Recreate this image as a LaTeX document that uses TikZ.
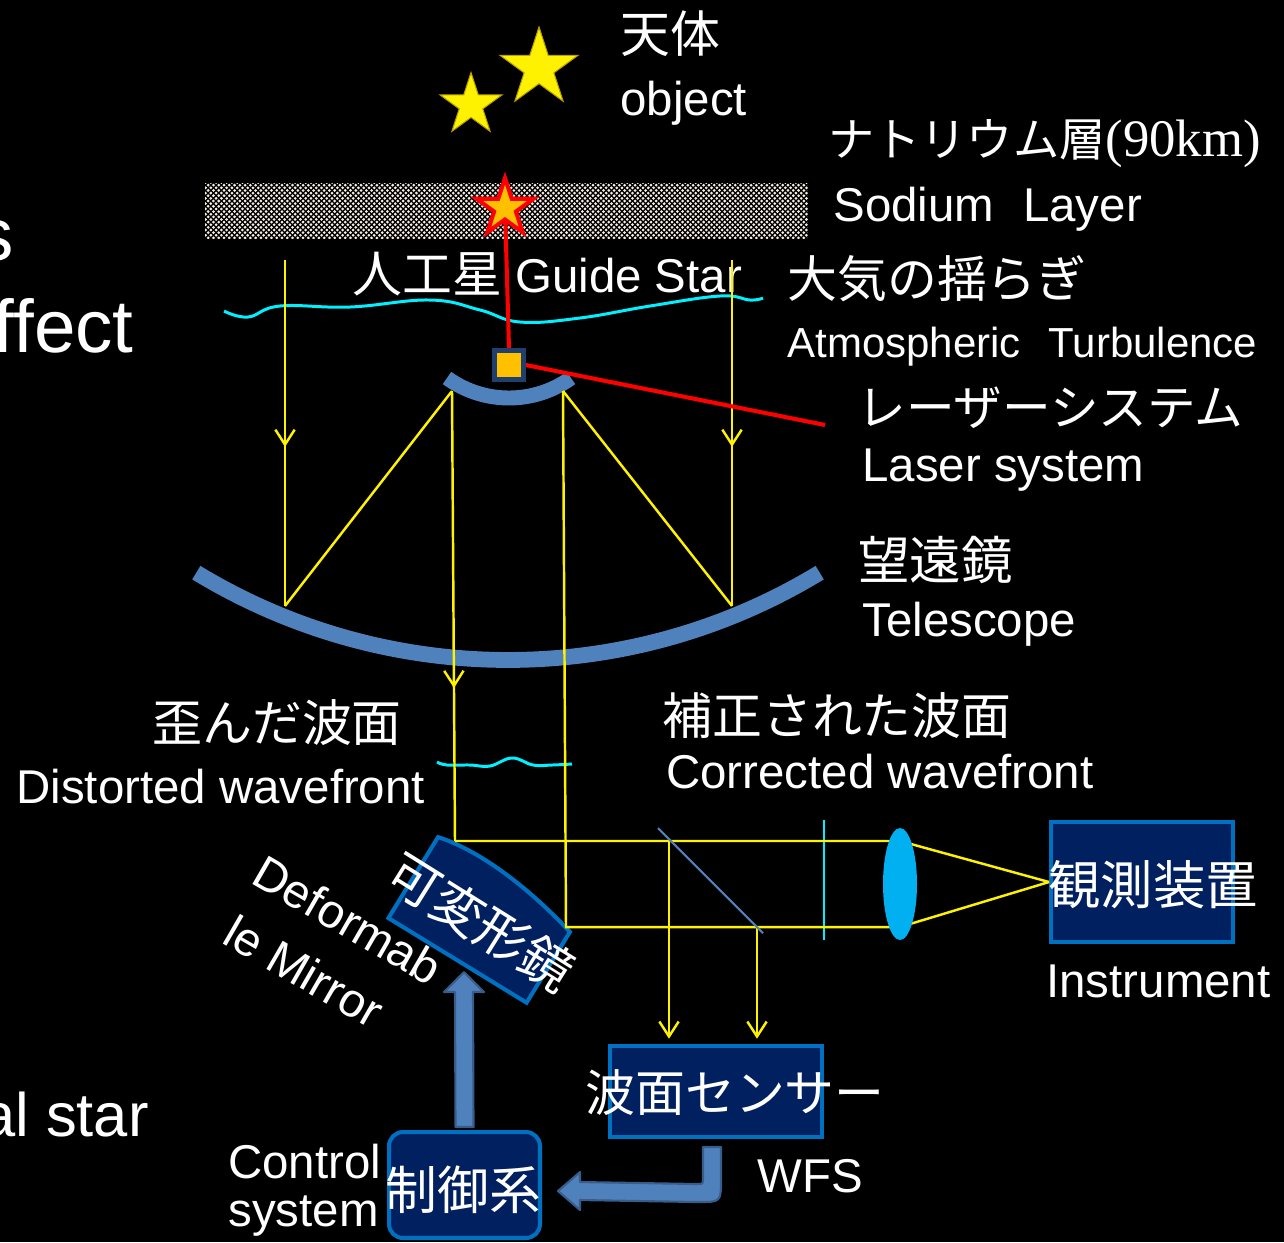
\documentclass[tikz,border=0pt]{standalone}
\usepackage{fontspec}
\setmainfont{Liberation Sans}
\newfontfamily\jpfont{Noto Sans CJK JP}
\newfontfamily\romfont{Liberation Serif}
\usetikzlibrary{calc,positioning,shapes.geometric,patterns,decorations.markings,arrows.meta}

\definecolor{steel}{HTML}{4F81BD}
\definecolor{steeldark}{HTML}{385D8A}
\definecolor{navy}{HTML}{002060}
\definecolor{boxblue}{HTML}{0070C0}
\definecolor{lensblue}{HTML}{00B0F0}
\definecolor{amber}{HTML}{FFC000}
\definecolor{wave}{HTML}{00F0FF}
\definecolor{dots}{HTML}{F6EEE4}
\definecolor{starrim}{HTML}{B8A000}

% fine dot screen for the sodium layer
\pgfdeclarepatternformonly{sodiumdots}{\pgfqpoint{-1pt}{-1pt}}{\pgfqpoint{4pt}{4pt}}{\pgfqpoint{3pt}{3pt}}{%
  \pgfpathcircle{\pgfqpoint{0pt}{0pt}}{0.86pt}%
  \pgfpathcircle{\pgfqpoint{1.5pt}{1.5pt}}{0.86pt}%
  \pgfusepath{fill}}

\tikzset{
  en/.style={text=white, inner sep=0pt, font=\fontsize{27}{32}\selectfont},
  jp/.style={text=white, inner sep=0pt, font=\jpfont\fontsize{28.4}{34}\selectfont},
  ray/.style={draw=yellow, line width=1.4pt},
  midarrow/.style={postaction={decorate}, decoration={markings,
      mark=at position #1 with {\arrow{Straight Barb[length=8.5pt,width=11pt]}}}},
  mirror/.style={draw=steel, line width=#1},
  unit/.style={draw=boxblue, fill=navy, line width=2.3pt, inner sep=0pt},
  fatarrow/.style={fill=steel, draw=steeldark, line width=1.2pt, line join=round},
  turb/.style={draw=wave, line width=1.7pt},
  laser/.style={draw=red, line width=2.3pt}
}

\begin{document}
\begin{tikzpicture}[x=0.02cm, y=-0.02cm]
  \clip (0,0) rectangle (1284,1242);
  \fill[black] (0,0) rectangle (1284,1242);

  % sodium layer
  \node[minimum width=12.06cm, minimum height=1.1cm, inner sep=0pt,
        pattern=sodiumdots, pattern color=dots] (sodium) at (506.5,210.5) {};

  % slide text running in from the left
  \node[en, anchor=base east, font=\fontsize{42.5}{50}\selectfont] (frag1) at (14,260) {s};
  \node[en, anchor=base east, font=\fontsize{42.5}{50}\selectfont] (frag2) at (134,352) {ffect};
  \node[en, anchor=base east, font=\fontsize{35}{42}\selectfont] (frag3) at (149,1136) {al star};

  % labels
  \node[jp, anchor=west] (objjp) at (620,34) {天体};
  \node[en, anchor=base west] (objen) at (620,115) {object};
  \node[en, anchor=base west] (najp) at (828,156)
    {{\jpfont\fontsize{26.3}{30}\selectfont ナトリウム層}{\romfont\fontsize{30}{34}\selectfont(90km)}};
  \node[en, anchor=base west] (naen) at (833,221) {Sodium\hspace{16.5pt}Layer};
  \node[en, anchor=base west] (gsl) at (352,292)
    {{\jpfont\fontsize{28.4}{34}\selectfont 人工星} Guide Star};
  \node[jp, anchor=west] (turbjp) at (787,279) {大気の揺らぎ};
  \node[en, anchor=base west, font=\fontsize{23.9}{28}\selectfont] (turben) at (787,357)
    {Atmospheric\hspace{16pt}Turbulence};
  \node[jp, anchor=west, font=\jpfont\fontsize{27.7}{32}\selectfont] (lasjp) at (857,408) {レーザーシステム};
  \node[en, anchor=base west] (lasen) at (862,481) {Laser system};
  \node[jp, anchor=west, font=\jpfont\fontsize{29.3}{34}\selectfont] (teljp) at (858,560) {望遠鏡};
  \node[en, anchor=base west] (telen) at (862,636) {Telescope};
  \node[jp, anchor=west] (distjp) at (152,723) {歪んだ波面};
  \node[en, anchor=base west] (disten) at (16,803) {Distorted wavefront};
  \node[jp, anchor=west] (corrjp) at (662,716) {補正された波面};
  \node[en, anchor=base west] (corren) at (666,788) {Corrected wavefront};
  \node[en, anchor=base west] (insten) at (1046,997) {Instrument};
  \node[en, anchor=base west] (wfsen) at (757,1192) {WFS};
  \node[en, anchor=base west] (ctrlen1) at (228,1178) {Control};
  \node[en, anchor=base west] (ctrlen2) at (228,1226) {system};
  \node[en, anchor=base west, rotate=-30] (dmen1) at (249,882) {Deformab};
  \node[en, anchor=base west, rotate=-30] (dmen2) at (220,942) {le Mirror};

  % turbulence and distorted wavefront
  \draw[turb] plot[smooth, tension=0.7] coordinates {(224,311) (248,317) (280,306) (350,307)
    (430,300) (480,310) (520,322) (580,318) (650,306) (720,296) (750,300) (763,298)};
  \draw[turb] plot[smooth, tension=0.7] coordinates {(437,762) (447,765) (470,765) (490,766)
    (512,758) (533,765) (552,765) (572,764)};
  % flat wavefront after correction
  \draw[turb, line width=1.1pt] (824,820) -- (824,940);

  % primary and secondary mirrors
  \coordinate (pm) at (508,60);
  \coordinate (sm) at (509,292);
  \draw[mirror=9pt] ($(pm)+(121.3:600)$) arc[start angle=121.3, end angle=58.7, radius=600];
  \draw[mirror=8.5pt] ($(sm)+(125.8:106)$) arc[start angle=125.8, end angle=54.2, radius=106];

  % deformable mirror
  \coordinate (dm) at (481,922);
  \begin{scope}[shift={(dm)}, rotate=-31.5]
    \draw[unit] (-81,45) -- (-81,-50) .. controls (-40,-60) and (20,-55) .. (81,-38)
      -- (81,45) -- cycle;
  \end{scope}
  \coordinate (dmfoot) at ($(dm)+(-17,50)$);

  % units
  \node[unit, minimum width=3.64cm, minimum height=2.4cm] (inst) at (1142,882) {};
  \node[unit, minimum width=4.24cm, minimum height=1.82cm] (wfs) at (716,1091.5) {};
  \node[unit, rounded corners=0.28cm, minimum width=3.02cm, minimum height=2.12cm] (ctrl) at (464.5,1185) {};

  % light path
  \coordinate (inL) at (285,260);  \coordinate (pmL) at (285,606);
  \coordinate (smL) at (452,391);  \coordinate (dmT) at (455,841);
  \coordinate (inR) at (732,260);  \coordinate (pmR) at (732,606);
  \coordinate (smR) at (563,391);  \coordinate (dmB) at (566,927);
  \coordinate (bsT) at (669,841);  \coordinate (bsB) at (757,927);
  \coordinate (lensc) at (900,884);

  \draw[ray, midarrow=0.54] (inL) -- (pmL);
  \draw[ray] (pmL) -- (smL);
  \draw[ray, midarrow=0.66] (smL) -- (dmT);
  \draw[ray] (dmT) -- (dmT -| lensc) -- (inst.west);
  \draw[ray, midarrow=0.54] (inR) -- (pmR);
  \draw[ray] (pmR) -- (smR);
  \draw[ray] (smR) -- (dmB) -- (dmB -| lensc) -- (inst.west);
  \draw[ray, -{Straight Barb[length=8.5pt,width=11pt]}, shorten >=3pt] (bsT) -- (bsT |- wfs.north);
  \draw[ray, -{Straight Barb[length=8.5pt,width=11pt]}, shorten >=3pt] (bsB) -- (bsB |- wfs.north);

  % beam splitter and lens
  \coordinate (bs1) at (658,828);
  \coordinate (bs2) at (763,933);
  \draw[steel, line width=1.2pt] (bs1) -- (bs2);
  \node[ellipse, fill=lensblue, minimum width=0.68cm, minimum height=2.24cm, inner sep=0pt] (lens) at (lensc) {};

  % laser and guide star
  \node[star, star points=5, star point ratio=2.618, minimum size=1.2cm, inner sep=0pt] (gstar) at (505,208) {};
  \node[fill=amber, draw={rgb,255:red,31;green,63;blue,111}, line width=2.6pt,
        minimum size=0.58cm, inner sep=0pt] (laser) at (509,365) {};
  \coordinate (laserend) at (825,425);
  \draw[laser] (laser.north) -- (gstar.center);
  \draw[laser] (laser.east) -- (laserend);
  \node[star, star points=5, star point ratio=2.618, minimum size=1.2cm, inner sep=0pt,
        fill=amber, draw=red, line width=2.3pt] at (gstar) {};
  \node[fill=amber, draw={rgb,255:red,31;green,63;blue,111}, line width=2.6pt,
        minimum size=0.58cm, inner sep=0pt] at (laser) {};

  % astronomical objects
  \node[star, star points=5, star point ratio=2.618, minimum size=1.64cm, inner sep=0pt,
        fill=yellow, draw=starrim, line width=0.6pt] (obj1) at (539,68) {};
  \node[star, star points=5, star point ratio=2.618, minimum size=1.3cm, inner sep=0pt,
        fill=yellow, draw=starrim, line width=0.6pt] (obj2) at (471,105) {};

  % control loop arrows
  \draw[fatarrow] ($(ctrl.north)+(-9,-3)$) -- ($(dmfoot)+(-9,20)$) -- ($(dmfoot)+(-20,20)$)
    -- (dmfoot) -- ($(dmfoot)+(20,20)$) -- ($(dmfoot)+(9,20)$) -- ($(ctrl.north)+(9,-3)$) -- cycle;
  \coordinate (ctrltip) at ($(ctrl.east)+(16,6)$);
  \draw[fatarrow] ($(wfs.south)+(-13,8)$) -- ($(wfs.south)+(5,8)$) -- ($(wfs.south)+(5,40)$)
    .. controls ($(wfs.south)+(5,63)$) .. ($(wfs.south)+(-18,63)$)
    -- ($(ctrltip)+(22,9)$) -- ($(ctrltip)+(22,19)$) -- (ctrltip)
    -- ($(ctrltip)+(22,-19)$) -- ($(ctrltip)+(22,-9)$)
    -- ($(wfs.south)+(-19,45)$) .. controls ($(wfs.south)+(-13,45)$) .. ($(wfs.south)+(-13,39)$)
    -- cycle;

  % unit labels
  \node[jp, anchor=west, font=\jpfont\fontsize{29.8}{34}\selectfont] (instjp) at (1048,885) {観測装置};
  \node[jp, anchor=west] (wfsjp) at (585,1093) {波面センサー};
  \node[jp, anchor=west, font=\jpfont\fontsize{29.5}{34}\selectfont] (ctrljp) at (385,1190) {制御系};
  \node[jp, rotate=-32, font=\jpfont\fontsize{29.5}{34}\selectfont] (dmjp) at (dm) {可変形鏡};
\end{tikzpicture}
\end{document}
